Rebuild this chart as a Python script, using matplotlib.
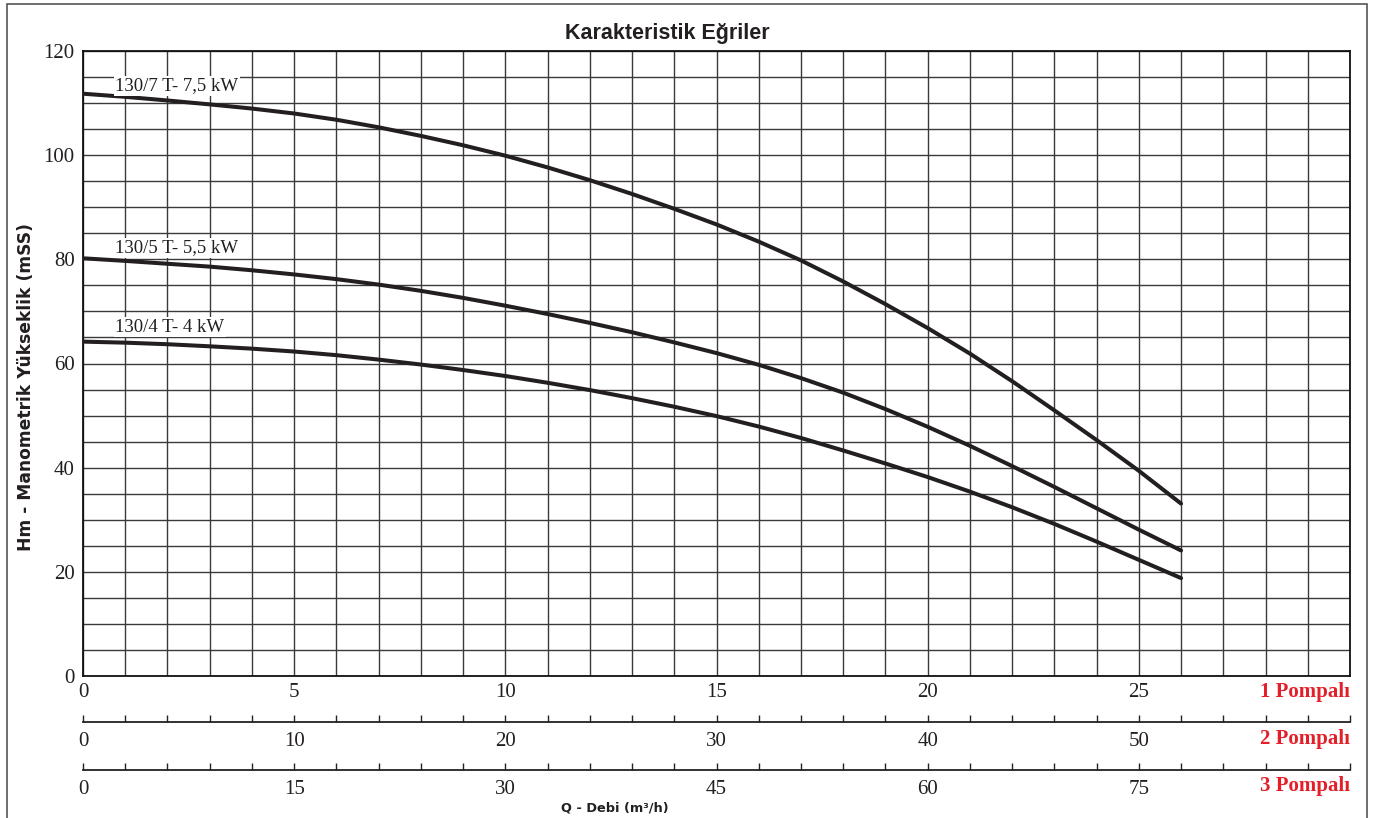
import matplotlib
matplotlib.use("Agg")
import matplotlib.pyplot as plt
from matplotlib import font_manager
from matplotlib.patches import Rectangle
from matplotlib.ticker import MultipleLocator, FixedLocator

# ---------------- data ----------------
Q = [0, 1, 2, 3, 4, 5, 6, 7, 8, 9, 10, 11, 12, 13, 14, 15, 16, 17, 18, 19, 20,
     21, 22, 23, 24, 25, 26]
H_130_7 = [111.8, 111.2, 110.5, 109.75, 108.95, 108.0, 106.8, 105.35, 103.7,
           101.9, 99.9, 97.65, 95.2, 92.55, 89.7, 86.7, 83.4, 79.8, 75.75,
           71.4, 66.8, 61.9, 56.6, 51.0, 45.3, 39.4, 33.1]
H_130_5 = [80.2, 79.7, 79.15, 78.6, 77.9, 77.1, 76.2, 75.15, 73.95, 72.6, 71.1,
           69.5, 67.8, 66.0, 64.05, 62.0, 59.75, 57.2, 54.4, 51.25, 47.85,
           44.2, 40.3, 36.3, 32.2, 28.1, 24.1]
H_130_4 = [64.2, 64.0, 63.7, 63.3, 62.85, 62.3, 61.6, 60.75, 59.8, 58.75, 57.6,
           56.3, 54.9, 53.35, 51.7, 49.9, 47.9, 45.7, 43.3, 40.8, 38.2, 35.4,
           32.4, 29.2, 25.8, 22.3, 18.8]
curve_labels = ["130/7 T- 7,5 kW", "130/5 T- 5,5 kW", "130/4 T- 4 kW"]

y_ticks = [0, 20, 40, 60, 80, 100, 120]
x_ticks_1 = [0, 5, 10, 15, 20, 25]
x_ticks_2 = [0, 10, 20, 30, 40, 50]
x_ticks_3 = [0, 15, 30, 45, 60, 75]
pump_labels = ["1 Pompalı", "2 Pompalı", "3 Pompalı"]

title = "Karakteristik Eğriler"
ylabel = "Hm - Manometrik Yükseklik (mSS)"
xlabel = "Q - Debi (m³/h)"

# ---------------- layout ----------------
W, H = 1379, 818
fig = plt.figure(figsize=(W / 100, H / 100), dpi=100)
serif = ["Liberation Serif", "DejaVu Serif"]
sans = ["Liberation Sans", "DejaVu Sans"]
wide = ["DejaVu Sans"]

installed = {f.name for f in font_manager.fontManager.ttflist}
if "Liberation Sans Narrow" in installed:
    title_family, title_size = ["Liberation Sans Narrow", "Liberation Sans"], 19
else:
    title_family, title_size = sans, 15.5

L, R, T, B = 83, 1350, 51, 676
ax = fig.add_axes([L / W, 1 - B / H, (R - L) / W, (B - T) / H])
ax.set_xlim(0, 30)
ax.set_ylim(0, 120)

ink = "#231f20"
grid_c = "#3a3a3a"

ax.xaxis.set_minor_locator(MultipleLocator(1))
ax.yaxis.set_minor_locator(MultipleLocator(5))
ax.set_xticks(x_ticks_1)
ax.set_yticks(y_ticks)
ax.grid(which="both", color=grid_c, lw=1.0, zorder=0)
ax.set_axisbelow(True)
ax.tick_params(which="both", length=0)
ax.tick_params(axis="x", pad=5)
ax.tick_params(axis="y", pad=6)
for lab in ax.get_xticklabels() + ax.get_yticklabels():
    lab.set_fontfamily(serif)
    lab.set_fontsize(15)
    lab.set_color(ink)
for s in ax.spines.values():
    s.set_color("#111111")
    s.set_linewidth(1.3)

for h in (H_130_7, H_130_5, H_130_4):
    ax.plot(Q, h, color=ink, lw=2.9, solid_capstyle="round",
            solid_joinstyle="round", zorder=3)

label_pos = [(0.76, 113.3), (0.76, 82.2), (0.76, 67.0)]
for txt, (xq, yh) in zip(curve_labels, label_pos):
    ax.text(xq, yh, txt, fontfamily=serif, fontsize=13.5, color=ink,
            ha="left", va="center", zorder=4,
            bbox=dict(facecolor="white", edgecolor="none", pad=1.0))

# secondary scales (2 and 3 pumps)
def pump_axis(ypix, xmax, ticks, step):
    a = fig.add_axes([L / W, 1 - ypix / H, (R - L) / W, 1e-6])
    a.set_xlim(0, xmax)
    a.set_ylim(0, 1)
    for k in ("top", "left", "right"):
        a.spines[k].set_visible(False)
    a.spines["bottom"].set_color("#222222")
    a.spines["bottom"].set_linewidth(1.3)
    a.set_yticks([])
    a.xaxis.set_major_locator(FixedLocator(ticks))
    a.xaxis.set_minor_locator(MultipleLocator(step))
    a.tick_params(which="both", direction="in", length=5, width=1.0,
                  color="#222222", pad=7)
    a.tick_params(which="major", labelsize=15, labelcolor=ink)
    for lab in a.get_xticklabels():
        lab.set_fontfamily(serif)
    a.patch.set_visible(False)
    return a

pump_axis(722, 60, x_ticks_2, 2)
pump_axis(770, 90, x_ticks_3, 3)

# pump labels (red)
for txt, yp in zip(pump_labels, [692, 739, 786]):
    fig.text(R / W, 1 - yp / H, txt, color="#e3202a", fontsize=15,
             fontweight="bold", fontfamily=serif, ha="right", va="center")

# title & axis labels
fig.text(667 / W, 1 - 33 / H, title, fontfamily=title_family,
         fontweight="bold", fontsize=title_size, ha="center", va="center",
         color=ink)
fig.text(26 / W, 1 - 387 / H, ylabel, fontfamily=wide, fontweight="bold",
         fontsize=12.3, rotation=90, ha="center", va="center", color=ink)
fig.text(615 / W, 1 - 808 / H, xlabel, fontfamily=wide, fontweight="bold",
         fontsize=9.3, ha="center", va="center", color=ink)

# outer frame
fig.patches.append(Rectangle((7 / W, -0.05), (1367 - 7) / W, 1.05 - 4 / H,
                             transform=fig.transFigure, fill=False,
                             edgecolor="#555555", lw=1.2))

fig.savefig("out.png", dpi=100)
